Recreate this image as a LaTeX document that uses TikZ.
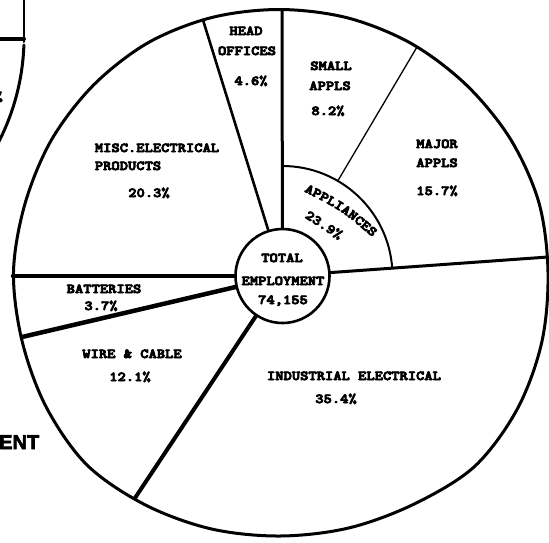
\documentclass[tikz,border=0pt]{standalone}
\usepackage{fontspec}
\newfontfamily\tw[FakeStretch=1.16,FakeBold=6]{lmmonolt10-bold.otf}
\newfontfamily\hv[BoldFeatures={FakeBold=3}]{Liberation Sans}
\usetikzlibrary{decorations.text}
\begin{document}
\begin{tikzpicture}[x=1pt,y=-1pt,line join=round,line cap=round,
  lbl/.style={font=\tw\fontsize{13.6}{16}\selectfont,inner sep=0pt,anchor=base},
  rim/.style={line width=3pt},
  spoke/.style={line width=3pt},
  heavy/.style={line width=4.5pt},
  fine/.style={line width=1.3pt}]
\useasboundingbox (0,0) rectangle (549,542);
\clip (0,0) rectangle (549,542);
\fill[white] (0,0) rectangle (549,542);

\node[font=\hv\bfseries\fontsize{20}{24}\selectfont,anchor=base west,inner sep=0pt] (ent) at (-1,449) {ENT};

% fragment of the neighbouring chart
\coordinate (lpT) at (24,-3);
\coordinate (lpB) at (24,42);
\coordinate (lpL) at (-3,39);
\coordinate (lpA) at (23.9,45);
\draw[line width=2pt] (lpT) -- (lpB);
\draw[line width=4pt] (lpL) -- (24,39);
\draw[rim] (lpA) arc[start angle=2,end angle=30,radius=230];
\node[lbl,anchor=base east] (frag) at (3,101) {\%};

% outer rim (hand drawn, slightly irregular)
\draw[rim] plot[smooth cycle,tension=0.55] coordinates {
  (548,272) (538.9,202.6) (510.4,139) (466.7,85.3) (411.8,43.8) (348.1,18.0)
  (280,9.5) (211.8,17.5) (147.8,42.9) (93.3,85.3) (51.4,140) (25,203.7)
  (13.5,272) (22.1,341.1) (46.2,407) (87,465) (145.5,505) (211.2,528.9)
  (280,536) (348.6,528) (414,504.1) (474.5,466.5) (517.3,409) (541.8,342.1)};

% centre
\node[draw,circle,line width=2.6pt,minimum size=94pt,inner sep=0pt] (tot) at (282.5,276) {};

\coordinate (hoL) at (203,20);
\coordinate (hoR) at (282,9.5);
\coordinate (apE) at (548,257);
\coordinate (inW) at (135,498);
\coordinate (wbE) at (22,337);
\coordinate (btE) at (13,276);
\coordinate (apA) at (282.5,166);
\coordinate (smI) at (337.8,180.9);
\coordinate (smO) at (417,47);

\draw[line width=2.6pt] (tot) -- (hoL);
\draw[spoke] (tot) -- (hoR);
\draw[spoke] (tot) -- (apE);
\draw[line width=4pt] (tot) -- (inW);
\draw[heavy] (tot) -- (wbE);
\draw[heavy] (tot) -- (btE);
\draw[line width=2pt] (apA) arc[start angle=-90,end angle=-4.1,radius=110];
\draw[fine] (smI) -- (smO);

% labels
\node[lbl] (t1) at (282,262) {TOTAL};
\node[lbl] (t2) at (283,285) {EMPLOYMENT};
\node[lbl] (t3) at (283,304) {74,155};

\node[lbl] (h1) at (246,35) {HEAD};
\node[lbl] (h2) at (247,55) {OFFICES};
\node[lbl] (h3) at (251,85) {4.6\%};

\node[lbl] (s1) at (331,70) {SMALL};
\node[lbl] (s2) at (330,90) {APPLS};
\node[lbl] (s3) at (328,115) {8.2\%};

\node[lbl] (m1) at (437,148) {MAJOR};
\node[lbl] (m2) at (437,167) {APPLS};
\node[lbl] (m3) at (437,195) {15.7\%};

\node[lbl] (e1) at (157,152) {MISC.ELECTRICAL};
\node[lbl] (e2) at (128,170) {PRODUCTS};
\node[lbl] (e3) at (149,197) {20.3\%};

\node[lbl] (b1) at (104,293) {BATTERIES};
\node[lbl] (b2) at (101,310) {3.7\%};

\node[lbl] (w1) at (132,358) {WIRE \& CABLE};
\node[lbl] (w2) at (130,381) {12.1\%};

\node[lbl] (i1) at (354,380) {INDUSTRIAL ELECTRICAL};
\node[lbl] (i2) at (336,403) {35.4\%};

\path[decorate,decoration={text along path,text align=center,
  text={|\tw\fontsize{13.6}{16}\selectfont|APPLIANCES}}]
  (303.4,191) .. controls (341.1,210.2) .. (373.2,237.6);
\node[lbl,anchor=center,rotate=-33] (a2) at (324,225) {23.9\%};
\end{tikzpicture}
\end{document}
